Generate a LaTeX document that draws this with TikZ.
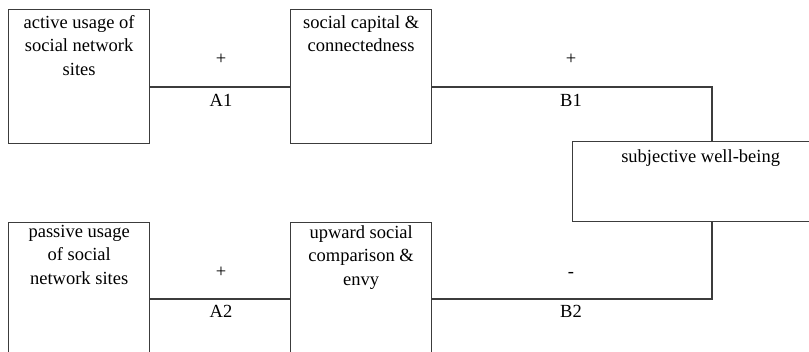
\documentclass[tikz,border=0pt]{standalone}
\usepackage{fontspec}
\setmainfont{Liberation Serif}
\begin{document}
\begin{tikzpicture}[x=1pt,y=-1pt,
  box/.style={draw=lineclr,line width=1.3pt,minimum width=141pt,minimum height=134pt,inner sep=0pt,anchor=north west},
  wbox/.style={draw=lineclr,line width=1.3pt,minimum width=256pt,minimum height=80pt,inner sep=0pt,anchor=north west},
  boxtext/.style={anchor=north,align=center,inner sep=0pt,font=\fontsize{18.5}{23.5}\selectfont},
  lbl/.style={anchor=base,inner sep=0pt,font=\fontsize{18.5}{20}\selectfont},
  conn/.style={draw=lineclr,line width=1.3pt}]
\definecolor{lineclr}{RGB}{60,60,60}
\useasboundingbox (0,0) rectangle (809,352);
\clip (0,0) rectangle (809,352);
% boxes
\node[box] (act) at (8,9) {};
\node[box] (cap) at (290,9) {};
\node[wbox] (swb) at (572,141) {};
\node[box] (pas) at (8,222) {};
\node[box] (up) at (290,222) {};
% box texts
\node[boxtext] (actT) at ([yshift=-6pt]act.north) {active usage of\\social network\\sites};
\node[boxtext] (capT) at ([yshift=-6pt]cap.north) {social capital \&\\connectedness};
\node[boxtext] (swbT) at ([yshift=-8pt]swb.north) {subjective well-being};
\node[boxtext] (pasT) at ([yshift=-3pt]pas.north) {passive usage\\of social\\network sites};
\node[boxtext] (upT) at ([yshift=-3pt]up.north) {upward social\\comparison \&\\envy};
% helper coordinates
\coordinate (ya) at (0,87);
\coordinate (yb) at (0,299);
\coordinate (xs) at (712,0);
% connectors
\draw[conn] (act.east |- ya) -- (cap.west |- ya);
\draw[conn] (cap.east |- ya) -| (swb.north -| xs);
\draw[conn] (pas.east |- yb) -- (up.west |- yb);
\draw[conn] (up.east |- yb) -| (swb.south -| xs);
% labels
\node[lbl] (p1) at (221,65) {+};
\node[lbl] (a1) at (221,107) {A1};
\node[lbl] (p2) at (571,65) {+};
\node[lbl] (b1) at (571,107) {B1};
\node[lbl] (p3) at (221,278) {+};
\node[lbl] (a2) at (221,318) {A2};
\node[lbl] (m1) at (571,278) {-};
\node[lbl] (b2) at (571,318) {B2};
\end{tikzpicture}
\end{document}
